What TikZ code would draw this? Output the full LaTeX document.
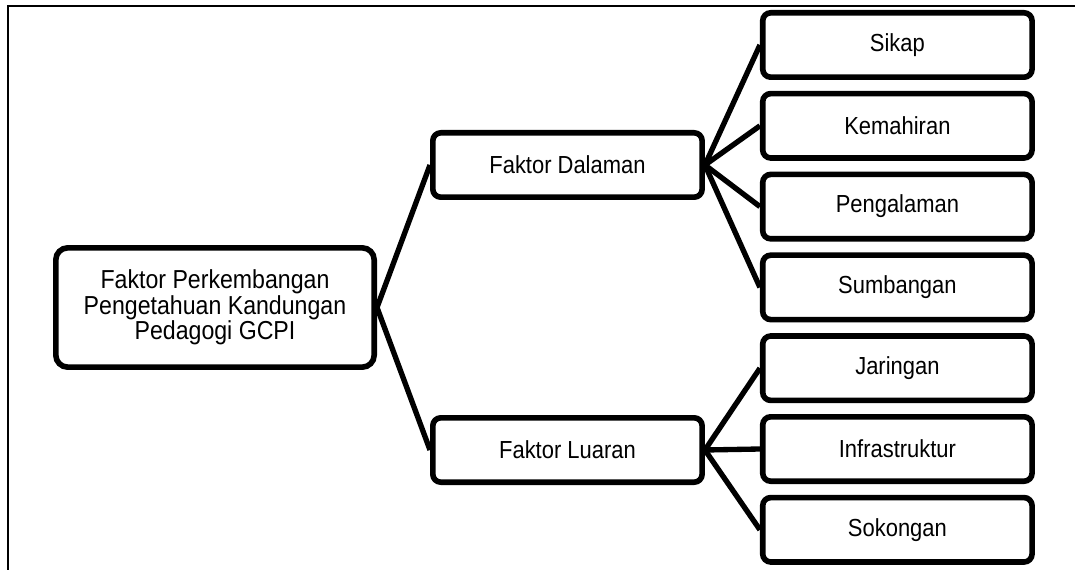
\documentclass[tikz,border=0pt]{standalone}
\usepackage{fontspec}
\setmainfont{Liberation Sans}[FakeStretch=0.89]
\usetikzlibrary{positioning}

\begin{document}
\begin{tikzpicture}[auto, node distance=8.1pt,
    box/.style={draw, rectangle, rounded corners=6pt, line width=4.2pt, align=center,
      minimum height=48.3pt, minimum width=202pt, font=\fontsize{18.5}{19}\selectfont},
    link/.style={line width=4pt, line join=round}]
    \useasboundingbox (0,0) rectangle (806.25pt,-427.5pt);
    \draw [line width=1.5pt] (6pt,-427.5pt) |- (806.25pt,-4.5pt);

    \node [box, rounded corners=9pt, minimum height=89.5pt, minimum width=238.8pt,
      font=\fontsize{19.5}{19}\selectfont] (Main) at (161.25pt,-230.625pt)
      {Faktor Perkembangan\\Pengetahuan Kandungan\\Pedagogi GCPI};
    \node [box, right=39.75pt of Main, yshift=106.875pt] (Dalaman) {Faktor Dalaman};
    \node [box, right=39.75pt of Main, yshift=-106.875pt] (Luaran) {Faktor Luaran};

    \node [box, right=41.25pt of Dalaman, yshift=90pt] (Sikap) {Sikap};
    \node [box, below=of Sikap] (Kemahiran) {Kemahiran};
    \node [box, below=of Kemahiran] (Pengalaman) {Pengalaman};
    \node [box, below=of Pengalaman] (Sumbangan) {Sumbangan};
    \node [box, below=of Sumbangan] (Jaringan) {Jaringan};
    \node [box, below=of Jaringan] (Infra) {Infrastruktur};
    \node [box, below=of Infra] (Sokongan) {Sokongan};

    \draw [link] (Dalaman.west) -- (Main.east) -- (Luaran.west);
    \foreach \b in {Sikap, Kemahiran, Pengalaman, Sumbangan}
      \draw [link] (Dalaman.east) -- (\b.west);
    \foreach \b in {Jaringan, Infra, Sokongan}
      \draw [link] (Luaran.east) -- (\b.west);

\end{tikzpicture}
\end{document}
